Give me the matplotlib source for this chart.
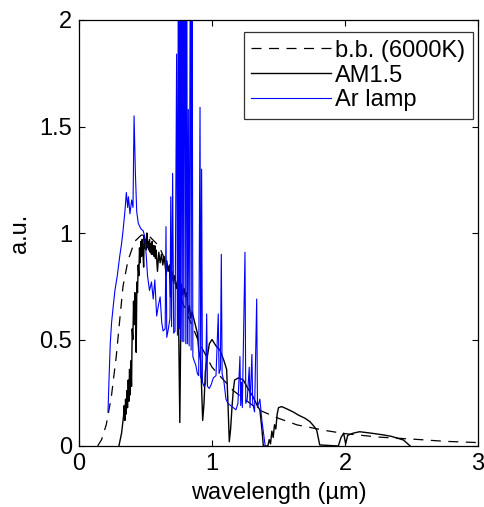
import matplotlib
matplotlib.use("Agg")
import matplotlib.pyplot as plt

# ---- data ----
bb_wl = [0.14, 0.17, 0.205, 0.243, 0.28, 0.306, 0.331, 0.368, 0.418, 0.468, 0.52,
         0.6, 0.7, 0.8, 0.9, 1.0, 1.16, 1.35, 1.5, 1.64, 1.86, 2.0, 2.25, 2.54, 2.75, 3.0]
bb_val = [0.0, 0.03, 0.10, 0.23, 0.42, 0.59, 0.75, 0.87, 0.96, 0.99, 0.99,
          0.94, 0.80, 0.64, 0.49, 0.37, 0.26, 0.17, 0.13, 0.099, 0.072, 0.058, 0.042, 0.031, 0.022, 0.016]

am_wl = [0.300, 0.320, 0.335, 0.340, 0.345, 0.350, 0.355, 0.360, 0.365, 0.370, 0.375, 0.380, 0.385,
         0.390, 0.395, 0.400, 0.405, 0.410, 0.415, 0.420, 0.425, 0.430, 0.435, 0.440,
         0.445, 0.450, 0.455, 0.460, 0.465, 0.470, 0.475, 0.480, 0.486, 0.490, 0.495,
         0.500, 0.505, 0.510, 0.515,
         0.520, 0.525, 0.530, 0.535, 0.540, 0.545, 0.550, 0.555, 0.560, 0.565, 0.570,
         0.575, 0.580, 0.590, 0.600, 0.610, 0.620, 0.630, 0.640,
         0.656, 0.660, 0.670, 0.680, 0.687, 0.700, 0.710, 0.720, 0.730, 0.745, 0.758, 0.765, 0.770,
         0.780, 0.790, 0.800, 0.810, 0.820, 0.830, 0.840, 0.850, 0.870, 0.890, 0.900, 0.915, 0.930, 0.940,
         0.950, 0.965, 0.980, 1.000, 1.030, 1.060, 1.090, 1.110, 1.120, 1.130, 1.140,
         1.150, 1.160, 1.170, 1.200, 1.235, 1.270, 1.310, 1.340, 1.360, 1.375, 1.386,
         1.420, 1.430, 1.440, 1.450, 1.460, 1.470, 1.480, 1.490, 1.500, 1.524, 1.560,
         1.610, 1.650, 1.700, 1.737, 1.770, 1.787, 1.810, 1.950, 1.970, 1.990, 2.005,
         2.020, 2.060, 2.110, 2.200, 2.290, 2.350, 2.440, 2.490]
am_val = [0.00, 0.06, 0.14, 0.19, 0.12, 0.22, 0.15, 0.26, 0.18, 0.31, 0.21, 0.36, 0.24,
          0.40, 0.28, 0.55, 0.50, 0.68, 0.57, 0.72, 0.63, 0.44, 0.77, 0.72,
          0.85, 0.80, 0.93, 0.86, 0.96, 0.89, 0.97, 0.92, 0.84, 0.99, 0.93,
          0.97, 0.92, 1.00, 0.93,
          0.96, 0.92, 0.97, 0.91, 0.95, 0.90, 0.96, 0.90, 0.94, 0.89, 0.94,
          0.88, 0.92, 0.82, 0.91, 0.86, 0.90, 0.85, 0.89,
          0.80, 0.87, 0.82, 0.85, 0.70, 0.82, 0.77, 0.80, 0.74, 0.79, 0.11, 0.55, 0.76,
          0.71, 0.74, 0.70, 0.72, 0.62, 0.66, 0.60, 0.63, 0.58, 0.53, 0.45, 0.40, 0.12, 0.20,
          0.35, 0.42, 0.48, 0.50, 0.47, 0.45, 0.40, 0.36, 0.20, 0.02, 0.08,
          0.18, 0.26, 0.31, 0.32, 0.31, 0.27, 0.23, 0.19, 0.17, 0.08, 0.00,
          0.00, 0.03, 0.01, 0.07, 0.04, 0.10, 0.08, 0.15, 0.18, 0.185, 0.175,
          0.16, 0.145, 0.13, 0.114, 0.09, 0.075, 0.005, 0.00, 0.04, 0.06, 0.01,
          0.05, 0.06, 0.067, 0.06, 0.052, 0.045, 0.028, 0.00]

ar_wl = [0.218, 0.225, 0.235, 0.245, 0.258, 0.270, 0.288, 0.306, 0.320, 0.331, 0.345,
         0.356, 0.366, 0.372, 0.383, 0.396, 0.406, 0.414, 0.424, 0.434, 0.446, 0.465,
         0.483, 0.495, 0.505, 0.515, 0.530, 0.545, 0.558, 0.570, 0.584, 0.597, 0.610,
         0.622, 0.632, 0.648, 0.654, 0.660, 0.672, 0.684, 0.690, 0.696, 0.704, 0.712,
         0.722, 0.734, 0.740, 0.748, 0.753, 0.758, 0.764, 0.770, 0.776, 0.782, 0.788,
         0.797, 0.803, 0.810, 0.815, 0.822, 0.828, 0.838, 0.843, 0.850, 0.856, 0.866,
         0.878, 0.890, 0.900, 0.910, 0.915, 0.922, 0.928, 0.940, 0.952, 0.960, 0.966,
         0.980, 0.995, 1.010, 1.030, 1.047, 1.053, 1.063, 1.070, 1.076, 1.090, 1.105,
         1.120, 1.140, 1.160, 1.180, 1.195, 1.210, 1.216, 1.222, 1.228, 1.248, 1.254,
         1.265, 1.280, 1.286, 1.300, 1.306, 1.320, 1.336, 1.342, 1.360, 1.375, 1.400]
ar_val = [0.16, 0.30, 0.48, 0.58, 0.66, 0.73, 0.80, 0.89, 0.95, 1.01, 1.10,
          1.19, 1.12, 1.17, 1.09, 1.155, 1.12, 1.55, 1.28, 1.10, 1.045, 1.02,
          1.01, 0.98, 0.90, 0.80, 0.73, 0.77, 0.69, 0.78, 0.61, 0.66, 0.70,
          0.58, 0.54, 0.55, 1.03, 0.51, 0.55, 0.60, 1.17, 0.56, 1.28, 0.53,
          0.54, 1.84, 0.52, 2.60, 0.55, 2.60, 0.50, 2.60, 0.49, 2.60, 0.49,
          2.60, 0.48, 2.60, 0.48, 1.58, 0.47, 2.60, 0.45, 2.60, 0.42, 0.40,
          0.38, 0.34, 0.33, 1.59, 0.32, 1.30, 0.30, 0.28, 0.29, 0.62, 0.28,
          0.27, 0.29, 0.32, 0.33, 0.62, 0.34, 0.36, 0.90, 0.34, 0.30, 0.22,
          0.20, 0.19, 0.18, 0.17, 0.20, 0.42, 0.19, 0.30, 0.18, 0.91, 0.20,
          0.22, 0.37, 0.18, 0.43, 0.20, 0.16, 0.69, 0.18, 0.22, 0.12, 0.00]

labels = ["b.b. (6000K)", "AM1.5", "Ar lamp"]
x_ticks = [0, 1, 2, 3]
y_ticks = [0, 0.5, 1, 1.5, 2]
y_tick_labels = ["0", "0.5", "1", "1.5", "2"]

# ---- figure ----
plt.rcParams['font.family'] = ['Liberation Sans', 'DejaVu Sans']
FS = 17
fig = plt.figure(figsize=(4.85, 5.07), dpi=100)
ax = fig.add_axes([79/485, 61/507, 399/485, 426/507])

ax.plot(bb_wl, bb_val, color='black', lw=0.9, dashes=(8, 6), label=labels[0])
ax.plot(am_wl, am_val, color='black', lw=1.0, label=labels[1])
ax.plot(ar_wl, ar_val, color='#0000ff', lw=0.8, label=labels[2])

ax.set_xlim(0, 3)
ax.set_ylim(0, 2)
ax.set_xticks(x_ticks)
ax.set_yticks(y_ticks)
ax.set_yticklabels(y_tick_labels)
ax.tick_params(direction='in', length=4, width=0.8, top=True, right=True,
               labelsize=FS, pad=5)
for s in ax.spines.values():
    s.set_linewidth(0.9)

ax.set_xlabel("wavelength (µm)", fontsize=FS, labelpad=5)
ax.set_ylabel("a.u.", fontsize=FS, labelpad=6)

leg = ax.legend(loc='upper right', bbox_to_anchor=(0.988, 0.972), borderaxespad=0,
                fontsize=FS, frameon=True, fancybox=False, edgecolor='black',
                handlelength=3.35, handletextpad=0.2, labelspacing=0.12,
                borderpad=0.33)
leg.get_frame().set_linewidth(0.9)

fig.savefig("out.png", dpi=100)
